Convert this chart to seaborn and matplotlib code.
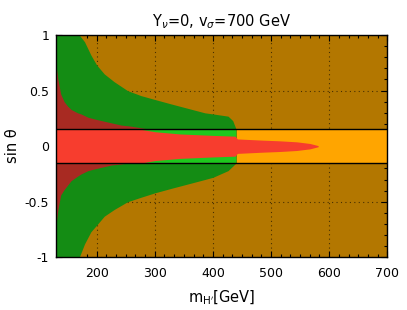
import numpy as np
import seaborn as sns
import matplotlib
matplotlib.use('Agg')
import matplotlib.pyplot as plt
from matplotlib.ticker import AutoMinorLocator, MultipleLocator

# limite (m_H' in GeV, sin theta)
X_MIN, X_MAX = 130, 700
BAND = 0.15

# regiunea verde inchis (exterior)
green_x = [129, 170, 179, 190, 200, 213, 230, 253, 276, 300, 328, 357, 386, 400, 426, 434, 440]
green_top = [1.0, 1.0, 0.94, 0.82, 0.73, 0.65, 0.58, 0.50, 0.455, 0.42, 0.38, 0.34, 0.30, 0.29, 0.27, 0.23, 0.15]
green_bot = [-1.0, -1.0, -0.88, -0.77, -0.71, -0.63, -0.57, -0.50, -0.46, -0.42, -0.38, -0.34, -0.30, -0.28, -0.22, -0.18, -0.15]

# regiunea rosu inchis (stanga)
dred_x = [129, 130, 133, 138, 144, 150, 156, 167, 173, 185, 200, 225, 242, 259, 294]
dred_top = [0.75, 0.73, 0.61, 0.47, 0.40, 0.36, 0.33, 0.30, 0.29, 0.26, 0.24, 0.21, 0.19, 0.18, 0.15]
dred_bot = [-0.72, -0.71, -0.58, -0.44, -0.39, -0.35, -0.31, -0.27, -0.25, -0.22, -0.20, -0.17, -0.16, -0.15, -0.15]

# banda rosie centrala (jumatate de latime)
red_x = [129, 278, 300, 343, 400, 438, 442, 486, 515, 544, 567, 581]
red_half = [0.15, 0.15, 0.13, 0.11, 0.097, 0.09, 0.065, 0.054, 0.048, 0.039, 0.024, 0.005]

# capetele regiunii verzi deschise
lgreen_x = [129, 440]

x_ticks = [200, 300, 400, 500, 600, 700]
y_ticks = [-1, -0.5, 0, 0.5, 1]
y_tick_labels = ['-1', '-0.5', '0', '0.5', '1']

C_BG = '#b37700'
C_ORANGE = '#ffa500'
C_DGREEN = '#148c14'
C_LGREEN = '#1ec81e'
C_DRED = '#a82a22'
C_RED = '#f73d2e'

sns.set_style('ticks')
plt.rcParams['font.family'] = ['DejaVu Sans']
plt.rcParams['mathtext.fontset'] = 'dejavusans'
plt.rcParams['text.color'] = 'black'
plt.rcParams['axes.labelcolor'] = 'black'
plt.rcParams['xtick.labelcolor'] = 'black'
plt.rcParams['ytick.labelcolor'] = 'black'

fig = plt.figure(figsize=(4.07, 3.10), dpi=100)
ax = fig.add_axes([0.1376, 0.170, 0.814, 0.717])
ax.set_facecolor(C_BG)

ax.fill_between([X_MIN - 5, X_MAX + 5], -BAND, BAND, color=C_ORANGE, lw=0)
ax.fill_between(green_x, green_bot, green_top, color=C_DGREEN, lw=0)
ax.fill_between(lgreen_x, -BAND, BAND, color=C_LGREEN, lw=0)
# rosul inchis doar in afara benzii
ax.fill_between(dred_x, BAND, np.maximum(dred_top, BAND), color=C_DRED, lw=0)
ax.fill_between(dred_x, np.minimum(dred_bot, -BAND), -BAND, color=C_DRED, lw=0)
red_lo = [-h for h in red_half]
ax.fill_between(red_x, red_lo, red_half, color=C_RED, lw=0)

ax.axhline(BAND, color='black', lw=1)
ax.axhline(-BAND, color='black', lw=1)

ax.set_xlim(X_MIN, X_MAX)
ax.set_ylim(-1, 1)
ax.set_xticks(x_ticks)
ax.set_yticks(y_ticks)
ax.set_yticklabels(y_tick_labels)
ax.xaxis.set_minor_locator(AutoMinorLocator(6))
ax.yaxis.set_minor_locator(MultipleLocator(0.1))
ax.tick_params(which='both', direction='in', top=True, right=True, labelsize=9, color='black')
ax.tick_params(which='major', length=4.5, width=0.8)
ax.tick_params(which='minor', length=2.5, width=0.8)
ax.tick_params(axis='x', pad=7)
ax.tick_params(axis='y', pad=5)
ax.grid(True, which='major', color='black', linestyle=(0, (1, 3)), lw=0.8, alpha=0.6)
for s in ax.spines.values():
    s.set_color('black')
    s.set_linewidth(1)

ax.set_title(r'Y$_{\nu}$=0, v$_{\sigma}$=700 GeV', fontsize=10.5, pad=6)
ax.set_xlabel(r'm$_{\rm H^{\prime}}$[GeV]', fontsize=10.5, labelpad=6)
ax.set_ylabel('sin θ', fontsize=10.5, labelpad=3)

fig.savefig('out.png', dpi=100)
